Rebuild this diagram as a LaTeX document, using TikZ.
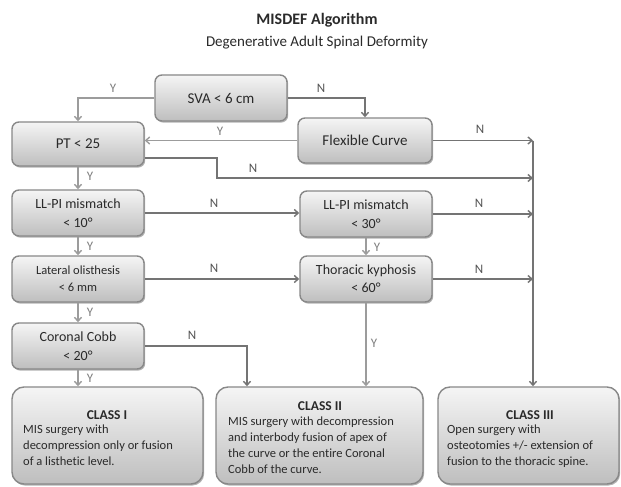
\documentclass[tikz,border=0pt]{standalone}
\usepackage{fontspec}
\setmainfont{Carlito}[Ligatures=NoCommon]
\usetikzlibrary{arrows.meta,shadows}
\definecolor{boxtop}{HTML}{F5F5F5}
\definecolor{boxbot}{HTML}{BEBEBE}
\definecolor{boxline}{HTML}{888888}
\definecolor{txt}{HTML}{2A2A2A}
\definecolor{ycol}{HTML}{9C9C9C}
\definecolor{ncol}{HTML}{747474}
\definecolor{ytxt}{HTML}{7E7E7E}
\definecolor{ntxt}{HTML}{555555}
\begin{document}
\begin{tikzpicture}[x=1pt,y=-1pt,
  shade/.style={top color=boxtop, bottom color=boxbot, draw=boxline, line width=1.4pt,
    drop shadow={shadow xshift=1.2pt, shadow yshift=-1.6pt, opacity=0.3, fill=black}},
  decbox/.style={shade, rounded corners=7pt, text=txt, align=center, inner sep=0pt,
    font=\fontsize{15}{19}\selectfont},
  clsbox/.style={shade, rounded corners=12pt, inner sep=0pt},
  yarr/.style={draw=ycol, line width=1.9pt, -{Straight Barb[length=4pt,width=7pt,line width=1.4pt]}},
  narr/.style={draw=ncol, line width=1.9pt, -{Straight Barb[length=4pt,width=7pt,line width=1.4pt]}},
  ylab/.style={text=ytxt, font=\fontsize{13}{13}\selectfont, inner sep=0pt},
  nlab/.style={text=ntxt, font=\fontsize{13}{13}\selectfont, inner sep=0pt},
  clstitle/.style={text=txt, font=\fontsize{13.5}{16}\selectfont\bfseries, inner sep=0pt},
  clsbody/.style={text=txt, font=\fontsize{12.5}{16}\selectfont, align=left, inner sep=0pt, anchor=north west}
]
\useasboundingbox (0,0) rectangle (621,487);
\fill[white] (0,0) rectangle (621,487);

% titles
\node[text=txt, font=\fontsize{16}{16}\selectfont\bfseries] (title) at (317,20) {MISDEF Algorithm};
\node[text=txt, font=\fontsize{15}{15}\selectfont] (subtitle) at (317,43) {Degenerative Adult Spinal Deformity};

% decision boxes
\node[decbox, minimum width=132pt, minimum height=46pt] (sva) at (221,98) {SVA < 6 cm};
\node[decbox, minimum width=132pt, minimum height=44pt] (pt) at (78,144) {PT < 25};
\node[decbox, minimum width=134pt, minimum height=45pt] (flex) at (365,140.5) {Flexible Curve};
\node[decbox, minimum width=132pt, minimum height=46pt, font=\fontsize{14}{19}\selectfont] (ll10) at (78,213) {LL-PI mismatch\\< 10°};
\node[decbox, minimum width=132pt, minimum height=46pt, font=\fontsize{14}{19}\selectfont] (ll30) at (366,214) {LL-PI mismatch\\< 30°};
\node[decbox, minimum width=132pt, minimum height=46pt, font=\fontsize{12.5}{17}\selectfont] (lat) at (78,279) {Lateral olisthesis\\< 6 mm};
\node[decbox, minimum width=132pt, minimum height=46pt, font=\fontsize{14}{18}\selectfont] (tho) at (366,279) {Thoracic kyphosis\\< 60°};
\node[decbox, minimum width=132pt, minimum height=46pt, font=\fontsize{14}{19}\selectfont] (cor) at (78,346) {Coronal Cobb\\< 20°};

% class boxes
\node[clsbox, minimum width=191pt, minimum height=97pt] (c1) at (107.5,435.5) {};
\node[clsbox, minimum width=207pt, minimum height=97pt] (c2) at (319.5,435.5) {};
\node[clsbox, minimum width=181pt, minimum height=97pt] (c3) at (528.5,435.5) {};

\node[clstitle] (c1t) at (107,415) {CLASS I};
\node[clsbody] (c1b) at (23,425) {MIS surgery with\\decompression only or fusion\\of a listhetic level.};
\node[clstitle] (c2t) at (320,406) {CLASS II};
\node[clsbody] (c2b) at (228,417) {MIS surgery with decompression\\and interbody fusion of apex of\\the curve or the entire Coronal\\Cobb of the curve.};
\node[clstitle] (c3t) at (530,415) {CLASS III};
\node[clsbody] (c3b) at (447,425) {Open surgery with\\osteotomies +/- extension of\\fusion to the thoracic spine.};

% helper coordinates
\coordinate (vx) at (533,0);
\coordinate (ptbend) at (217,178);
\coordinate (corx) at (247,0);

% connectors
\draw[yarr] (sva.west) -| (pt.north);
\draw[narr] (sva.east) -| (flex.north);
\draw[yarr] (flex.west) -- (flex.west -| pt.east);
\draw[narr] (flex.east) -- (flex.east -| vx);
\draw[narr] ([yshift=-14pt]pt.east) -| (ptbend) -- (ptbend -| vx);
\draw[narr] (flex.east -| vx) -- (vx |- c3.north);
\draw[yarr] (pt) -- (ll10);
\draw[narr] (ll10.east) -- (ll10.east -| ll30.west);
\draw[narr] (ll30.east) -- (ll30.east -| vx);
\draw[yarr] (ll10) -- (lat);
\draw[yarr] (ll30) -- (tho);
\draw[narr] (lat) -- (tho);
\draw[narr] (tho.east) -- (tho.east -| vx);
\draw[yarr] (lat) -- (cor);
\draw[yarr] (tho.south) -- (tho.south |- c2.north);
\draw[narr] (cor.east) -| (corx |- c2.north);
\draw[yarr] (cor.south) -- (cor.south |- c1.north);

% labels
\node[ylab] (l1) at (113,88) {Y};
\node[nlab] (l2) at (321,88) {N};
\node[ylab] (l3) at (220,131) {Y};
\node[nlab] (l4) at (480,129) {N};
\node[nlab] (l5) at (253,168) {N};
\node[ylab] (l6) at (90,176) {Y};
\node[nlab] (l7) at (214,203) {N};
\node[nlab] (l8) at (479,203) {N};
\node[ylab] (l9) at (90,246) {Y};
\node[ylab] (l10) at (377,247) {Y};
\node[nlab] (l11) at (214,268) {N};
\node[nlab] (l12) at (479,269) {N};
\node[ylab] (l13) at (90,312) {Y};
\node[ylab] (l14) at (374,343) {Y};
\node[nlab] (l15) at (192,335) {N};
\node[ylab] (l16) at (90,378) {Y};
\end{tikzpicture}
\end{document}
